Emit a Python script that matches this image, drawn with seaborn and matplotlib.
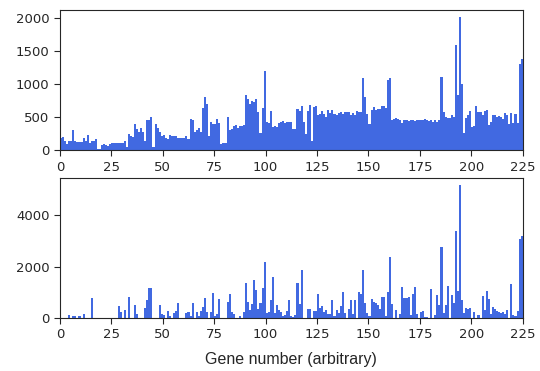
import matplotlib
matplotlib.use("Agg")
import matplotlib.pyplot as plt
import numpy as np
import seaborn as sns

# === Read counts per gene (genes 0..224), split in blocks of the x range ===
TOP_000_055 = [178, 193, 147, 100, 137, 137, 300, 137, 117, 117,
               117, 178, 137, 229, 107, 137, 137, 163, 15, 15,
               76, 91, 81, 71, 91, 102, 102, 102, 102, 102,
               102, 137, 46, 239, 213, 198, 391, 315, 279, 330,
               274, 147, 452, 452, 498, 46, 391, 330, 279, 213,
               229, 178, 168, 229, 218, 213]
TOP_056_111 = [208, 178, 178, 178, 178, 208, 163, 467, 452, 269,
               310, 330, 269, 635, 803, 696, 213, 422, 391, 391,
               467, 406, 91, 102, 102, 498, 300, 320, 361, 376,
               330, 361, 361, 376, 833, 772, 696, 742, 726, 772,
               574, 254, 635, 1199, 422, 406, 589, 345, 361, 345,
               406, 422, 437, 406, 422, 422]
TOP_112_167 = [422, 315, 315, 620, 589, 665, 422, 239, 589, 681,
               132, 650, 665, 528, 544, 589, 544, 498, 605, 559,
               605, 544, 528, 559, 574, 544, 574, 574, 574, 528,
               559, 528, 589, 574, 574, 1092, 803, 544, 391, 605,
               650, 605, 620, 620, 665, 665, 635, 1062, 1092, 452,
               467, 483, 467, 452, 406, 452]
TOP_168_224 = [452, 437, 452, 452, 437, 452, 452, 452, 452, 467,
               452, 437, 452, 422, 452, 422, 452, 1107, 574, 498,
               483, 483, 528, 498, 1595, 833, 2022, 1001, 254, 483,
               528, 589, 351, 361, 665, 574, 574, 528, 589, 605,
               376, 422, 528, 528, 498, 513, 498, 467, 559, 528,
               391, 559, 406, 544, 406, 1306, 1382]

BOT_000_055 = [0, 0, 0, 0, 131, 0, 92, 92, 0, 92,
               0, 170, 0, 0, 0, 758, 0, 0, 0, 0,
               0, 0, 0, 0, 0, 0, 0, 0, 484, 248,
               0, 327, 0, 797, 0, 0, 523, 170, 0, 0,
               0, 405, 680, 1150, 1150, 0, 0, 0, 523, 170,
               131, 0, 288, 92, 0, 209]
BOT_056_111 = [288, 601, 0, 0, 0, 209, 248, 92, 601, 0,
               248, 92, 288, 444, 758, 248, 0, 248, 954, 92,
               144, 719, 0, 0, 0, 640, 915, 248, 170, 0,
               0, 92, 0, 248, 1346, 640, 327, 562, 1464, 1072,
               366, 601, 1150, 2170, 209, 248, 680, 1581, 209, 523,
               327, 248, 92, 131, 288, 680]
BOT_112_167 = [92, 52, 131, 1346, 562, 1856, 0, 0, 366, 366,
               0, 288, 288, 915, 405, 484, 248, 327, 170, 170,
               680, 92, 327, 209, 484, 993, 209, 0, 366, 680,
               170, 680, 0, 993, 915, 1856, 601, 209, 92, 719,
               640, 601, 523, 366, 797, 797, 92, 993, 2366, 562,
               0, 327, 0, 170, 1189, 758]
BOT_168_224 = [758, 797, 131, 915, 1189, 170, 0, 248, 288, 52,
               52, 0, 1111, 0, 131, 876, 523, 2758, 209, 523,
               1229, 0, 876, 601, 3385, 1033, 5189, 680, 209, 405,
               366, 405, 0, 248, 0, 131, 0, 836, 327, 1033,
               719, 170, 444, 366, 288, 248, 209, 248, 170, 327,
               0, 1307, 131, 92, 288, 3071, 3189]

X_TICKS = [0, 25, 50, 75, 100, 125, 150, 175, 200, 225]
TOP_Y_TICKS = [0, 500, 1000, 1500, 2000]
BOT_Y_TICKS = [0, 2000, 4000]

BAR_COLOR = "#4169E1"

top_vals = np.array(TOP_000_055 + TOP_056_111 + TOP_112_167 + TOP_168_224)
bot_vals = np.array(BOT_000_055 + BOT_056_111 + BOT_112_167 + BOT_168_224)
genes = np.arange(len(top_vals)) + 0.5

sns.set_style("ticks")
plt.rcParams["font.family"] = ["DejaVu Sans"]

fig, axes = plt.subplots(2, 1, figsize=(5.4, 3.71), dpi=100)
fig.subplots_adjust(left=0.111, right=0.968, top=0.972, bottom=0.143, hspace=0.2)

for ax, vals, yticks in zip(axes, [top_vals, bot_vals], [TOP_Y_TICKS, BOT_Y_TICKS]):
    sns.barplot(
        x=genes, y=vals, native_scale=True, width=1,
        color=BAR_COLOR, saturation=1, linewidth=0, errorbar=None, ax=ax,
    )
    ax.set_xlim(0, 225)
    ax.set_xticks(X_TICKS)
    ax.set_yticks(yticks)
    ax.tick_params(labelsize=9.5, length=4)
    ax.set_xlabel("")
    ax.set_ylabel("")

axes[1].set_xlabel("Gene number (arbitrary)", fontfamily="Liberation Sans",
                   fontsize=11.5, labelpad=8)

fig.savefig("out.png", dpi=100)
